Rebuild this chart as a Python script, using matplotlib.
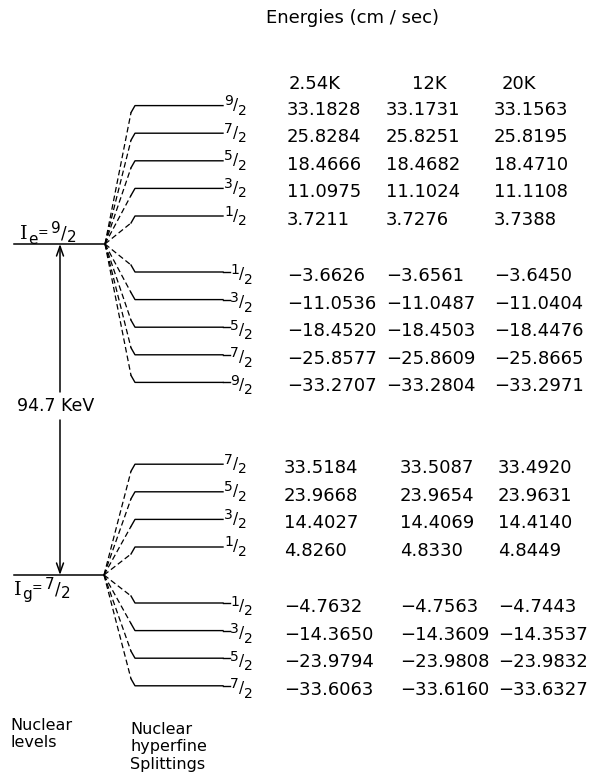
import matplotlib
matplotlib.use('Agg')
import matplotlib.pyplot as plt

# ---------------- data ----------------
temperatures = ['2.54K', '12K', '20K']

excited_m = ['9/2', '7/2', '5/2', '3/2', '1/2', '-1/2', '-3/2', '-5/2', '-7/2', '-9/2']
excited_254 = [33.1828, 25.8284, 18.4666, 11.0975, 3.7211, -3.6626, -11.0536, -18.4520, -25.8577, -33.2707]
excited_12 = [33.1731, 25.8251, 18.4682, 11.1024, 3.7276, -3.6561, -11.0487, -18.4503, -25.8609, -33.2804]
excited_20 = [33.1563, 25.8195, 18.4710, 11.1108, 3.7388, -3.6450, -11.0404, -18.4476, -25.8665, -33.2971]

ground_m = ['7/2', '5/2', '3/2', '1/2', '-1/2', '-3/2', '-5/2', '-7/2']
ground_254 = [33.5184, 23.9668, 14.4027, 4.8260, -4.7632, -14.3650, -23.9794, -33.6063]
ground_12 = [33.5087, 23.9654, 14.4069, 4.8330, -4.7563, -14.3609, -23.9808, -33.6160]
ground_20 = [33.4920, 23.9631, 14.4140, 4.8449, -4.7443, -14.3537, -23.9832, -33.6327]

gamma_energy = '94.7 KeV'
title = 'Energies (cm / sec)'

# ---------------- figure ----------------
plt.rcParams['font.family'] = ['DejaVu Sans']

fig = plt.figure(figsize=(6.10, 7.74), dpi=100)
ax = fig.add_axes([0, 0, 1, 1])
ax.set_xlim(0, 610)
ax.set_ylim(774, 0)
ax.axis('off')

LW = 1.0
VAL_FS = 13
DASH = (0, (4.5, 2.5))


def draw_frac(x, y, num, den, fs=10):
    """Slashed fraction, numerator raised, denominator lowered; (x, y) = left, centre."""
    ax.text(x, y - 4.5, num, fontsize=fs, ha='left', va='center')
    ax.text(x + 0.88 * fs, y, '/', fontsize=fs + 1, ha='left', va='center')
    ax.text(x + 1.42 * fs, y + 5, den, fontsize=fs, ha='left', va='center')


def fmt(v):
    s = f'{abs(v):.4f}'
    return ('\u2212' + s) if v < 0 else s


def draw_manifold(level_y, focal_x, mlist, cols, col_x):
    for i, m in enumerate(mlist):
        neg = m.startswith('-')
        num, den = m.lstrip('-').split('/')
        mv = float(num) / float(den) * (-1 if neg else 1)
        sign = 1 if mv > 0 else -1
        y = level_y - sign * (28 + 27.6 * (abs(mv) - 0.5))
        kink_y = y + sign * 7
        ax.plot([focal_x, 131], [level_y, kink_y], color='black', lw=0.9, ls=DASH)
        ax.plot([131, 135, 223], [kink_y, y, y], color='black', lw=LW,
                solid_joinstyle='round')
        if neg:
            ax.plot([223, 230], [y, y], color='black', lw=LW)
            draw_frac(230, y + 3, num, den)
        else:
            draw_frac(224, y, num, den)
        for cx, vals in zip(col_x, cols):
            ax.text(cx, y + 4, fmt(vals[i]), fontsize=VAL_FS, ha='left', va='center')


# title and headers
ax.text(352, 18, title, fontsize=13, ha='center', va='center')
for t, x in zip(temperatures, [289, 412, 502]):
    ax.text(x, 84, t, fontsize=VAL_FS, ha='left', va='center')

# nuclear levels
upper_y, lower_y = 244, 575
ax.plot([14, 105], [upper_y, upper_y], color='black', lw=1.1)
ax.plot([14, 104], [lower_y, lower_y], color='black', lw=1.1)

draw_manifold(upper_y, 105, excited_m, [excited_254, excited_12, excited_20], [287, 386, 494])
draw_manifold(lower_y, 104, ground_m, [ground_254, ground_12, ground_20], [284, 400, 498])

# transition arrow
ax.annotate('', xy=(60, upper_y), xytext=(60, 392),
            arrowprops=dict(arrowstyle='->,head_length=0.7,head_width=0.25', lw=1.1,
                            color='black', shrinkA=0, shrinkB=0))
ax.annotate('', xy=(60, lower_y), xytext=(60, 420),
            arrowprops=dict(arrowstyle='->,head_length=0.7,head_width=0.25', lw=1.1,
                            color='black', shrinkA=0, shrinkB=0))
ax.text(56, 406, gamma_energy, fontsize=12.5, ha='center', va='center')

# level labels
ax.text(20, 234, 'I', fontsize=14, family='DejaVu Serif', ha='left', va='center')
ax.text(28, 239, 'e', fontsize=11, ha='left', va='center')
ax.text(38, 233, '=', fontsize=9, ha='left', va='center')
draw_frac(51, 233, '9', '2', fs=11)
ax.text(14, 590, 'I', fontsize=14, family='DejaVu Serif', ha='left', va='center')
ax.text(22, 595, 'g', fontsize=11, ha='left', va='center')
ax.text(32, 588, '=', fontsize=9, ha='left', va='center')
draw_frac(45, 589, '7', '2', fs=11)

# bottom captions
ax.text(10, 718, 'Nuclear\nlevels', fontsize=11.5, ha='left', va='top', linespacing=1.2)
ax.text(130, 722, 'Nuclear\nhyperfine\nSplittings', fontsize=11.5, ha='left', va='top',
        linespacing=1.2)

fig.savefig('out.png', dpi=100)
